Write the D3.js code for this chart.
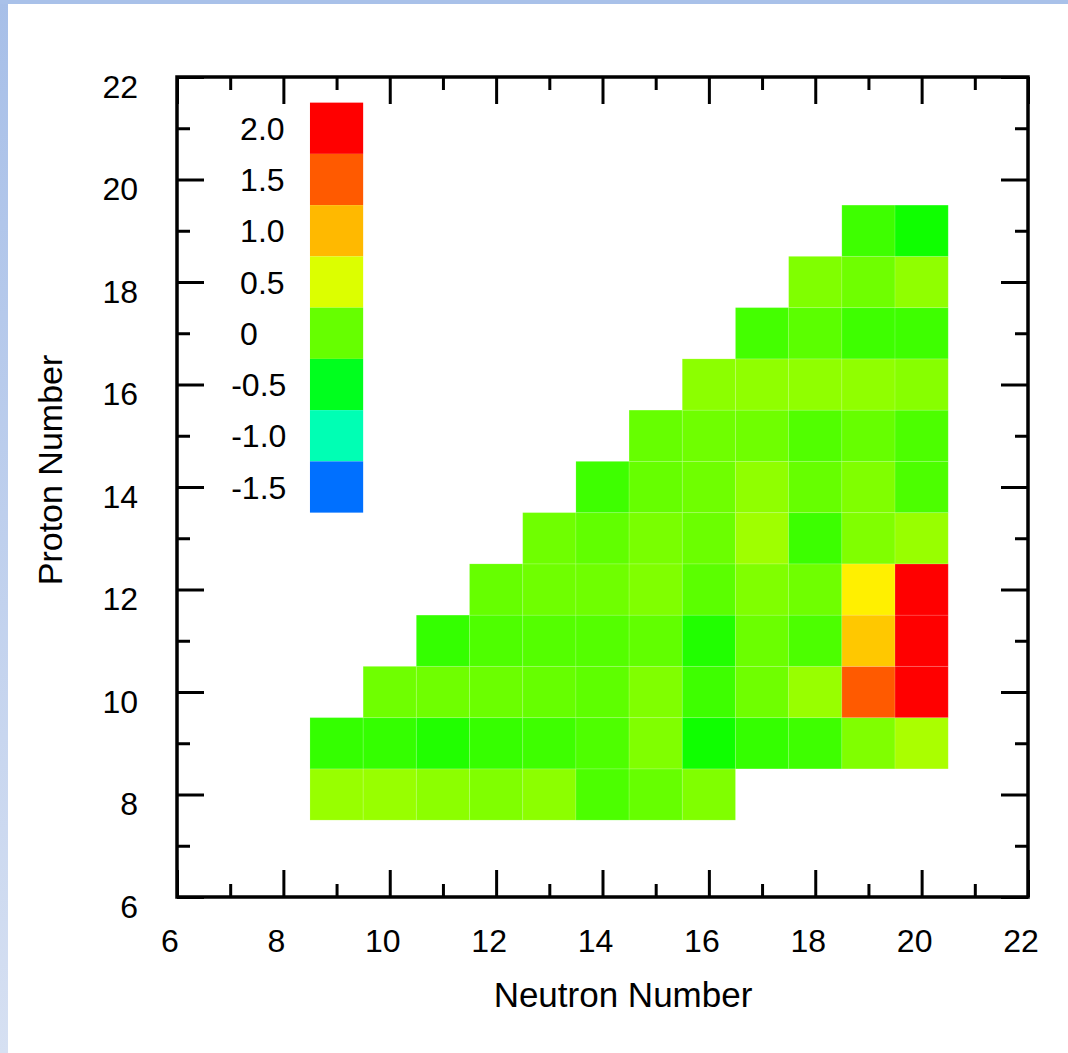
<!DOCTYPE html>
<html>
<head>
<meta charset="utf-8">
<script src="https://cdn.jsdelivr.net/npm/d3@7"></script>
<style>
	body { margin: 0; background: #fff; }
	svg { display: block; font-family: "Liberation Sans", Arial, Helvetica, sans-serif; }
	.legendLabel { white-space: pre; }
</style>
</head>
<body>
<svg id="chart" width="1068" height="1053"></svg>
<script>
// proton number of each row, and the first neutron number filled in that row
var protonNumbers = [8, 9, 10, 11, 12, 13, 14, 15, 16, 17, 18, 19];
var firstNeutron = [9, 9, 10, 11, 12, 13, 14, 15, 16, 17, 18, 19];

// one value per cell, read left to right along each row
var cellValues = [
	[0.21, 0.21, 0.16, 0.11, 0.16, -0.10, 0.0, 0.11],
	[-0.19, -0.19, -0.26, -0.18, -0.15, -0.09, 0.11, -0.33, -0.19, -0.15, 0.11, 0.29],
	[0.04, 0.04, 0.02, 0.0, -0.03, 0.11, -0.15, 0.04, 0.21, 1.5, 2.0],
	[-0.19, -0.09, -0.07, -0.07, -0.02, -0.26, 0.02, -0.10, 0.93, 2.0],
	[0.0, 0.04, 0.04, 0.11, -0.04, 0.11, 0.04, 0.74, 2.0],
	[0.04, -0.02, 0.08, 0.02, 0.24, -0.16, 0.11, 0.21],
	[-0.15, 0.0, 0.04, 0.18, 0.0, 0.11, -0.10],
	[0.0, 0.04, 0.04, -0.08, 0.0, -0.10],
	[0.16, 0.18, 0.18, 0.18, 0.14],
	[-0.13, -0.04, -0.15, -0.15],
	[0.11, 0.04, 0.18],
	[-0.15, -0.33]
];

// colour key, top to bottom
var legendValues = [2.0, 1.5, 1.0, 0.5, 0, -0.5, -1.0, -1.5];
var legendColors = ['#ff0000', '#ff5a00', '#ffb900', '#dcff00', '#66ff00', '#00ff1e', '#00ffb4', '#0070ff'];

var axisMin = 6,
	axisMax = 22,
	majorTicks = d3.range(6, 23, 2),
	minorTicks = d3.range(7, 22, 2);

var svg = d3.select('#chart');

// slide background: blue strips along the top and left edges
var grad = svg.append('defs').append('linearGradient')
	.attr('id', 'edge')
	.attr('x1', 0).attr('y1', 0).attr('x2', 0).attr('y2', 1);
grad.append('stop').attr('offset', 0).attr('stop-color', '#a7bfe8');
grad.append('stop').attr('offset', 1).attr('stop-color', '#d6e0f2');
svg.append('rect').attr('x', 0).attr('y', 0).attr('width', 8).attr('height', 1053).attr('fill', 'url(#edge)');
svg.append('rect').attr('x', 0).attr('y', 0).attr('width', 1068).attr('height', 4).attr('fill', '#a9c1e9');

var x = d3.scaleLinear().domain([axisMin, axisMax]).range([177, 1028]),
	y = d3.scaleLinear().domain([axisMin, axisMax]).range([897, 77]);

var color = d3.scaleLinear()
	.domain(legendValues)
	.range(legendColors)
	.interpolate(d3.interpolateHsl)
	.clamp(true);

// flatten rows into cells
var cells = [];
protonNumbers.forEach(function(z, i) {
	cellValues[i].forEach(function(v, j) {
		cells.push({n: firstNeutron[i] + j, z: z, value: v});
	});
});

svg.append('g').selectAll('rect')
	.data(cells).enter().append('rect')
	.attr('x', function(d) { return x(d.n - 0.5); })
	.attr('y', function(d) { return y(d.z + 0.5); })
	.attr('width', function(d) { return x(d.n + 0.5) - x(d.n - 0.5); })
	.attr('height', function(d) { return y(d.z - 0.5) - y(d.z + 0.5); })
	.attr('fill', function(d) { return color(d.value); })
	.attr('stroke', 'rgba(255,255,255,0.12)')
	.attr('stroke-width', 1);

// colour key drawn inside the plot, one unit per block
var legend = svg.append('g');
legend.selectAll('rect')
	.data(legendValues).enter().append('rect')
	.attr('x', x(8.5))
	.attr('y', function(d, i) { return y(21.5 - i); })
	.attr('width', x(9.5) - x(8.5))
	.attr('height', function(d, i) { return y(20.5 - i) - y(21.5 - i); })
	.attr('fill', function(d, i) { return legendColors[i]; });
legend.selectAll('text')
	.data(legendValues).enter().append('text')
	.classed('legendLabel', true)
	.attr('x', x(7) + 1)
	.attr('y', function(d, i) { return y(21 - i); })
	.attr('dy', '0.36em')
	.attr('font-size', 32)
	.text(function(d) {
		var s = d === 0 ? '0' : d3.format('.1f')(Math.abs(d));
		return d < 0 ? '-' + s : ' ' + s;
	});

// inward ticks on all four sides
var tickSides = [
	{make: function() { return d3.axisBottom(x); }, t: 'translate(0,897)'},
	{make: function() { return d3.axisTop(x); }, t: 'translate(0,77)'},
	{make: function() { return d3.axisLeft(y); }, t: 'translate(177,0)'},
	{make: function() { return d3.axisRight(y); }, t: 'translate(1028,0)'}
];
tickSides.forEach(function(side) {
	[[majorTicks, 27], [minorTicks, 13]].forEach(function(set) {
		var a = svg.append('g')
			.attr('transform', side.t)
			.call(side.make().tickValues(set[0]).tickSize(-set[1]).tickFormat(''));
		a.select('.domain').remove();
		a.selectAll('line').attr('stroke', '#000').attr('stroke-width', 3);
	});
});

svg.append('rect')
	.attr('x', x(axisMin)).attr('y', y(axisMax))
	.attr('width', x(axisMax) - x(axisMin))
	.attr('height', y(axisMin) - y(axisMax))
	.attr('fill', 'none')
	.attr('stroke', '#000')
	.attr('stroke-width', 3.5);

// tick labels
svg.append('g').selectAll('text')
	.data(majorTicks).enter().append('text')
	.attr('x', function(d) { return x(d) - 7; })
	.attr('y', 952)
	.attr('text-anchor', 'middle')
	.attr('font-size', 32)
	.text(function(d) { return d; });
svg.append('g').selectAll('text')
	.data(majorTicks).enter().append('text')
	.attr('x', 138)
	.attr('y', function(d) { return y(d) + 9; })
	.attr('dy', '0.36em')
	.attr('text-anchor', 'end')
	.attr('font-size', 32)
	.text(function(d) { return d; });

// axis titles
svg.append('text')
	.attr('x', 623)
	.attr('y', 1007)
	.attr('text-anchor', 'middle')
	.attr('font-size', 35)
	.text('Neutron Number');
svg.append('text')
	.attr('transform', 'translate(62,470) rotate(-90)')
	.attr('text-anchor', 'middle')
	.attr('font-size', 34)
	.text('Proton Number');
</script>
</body>
</html>
